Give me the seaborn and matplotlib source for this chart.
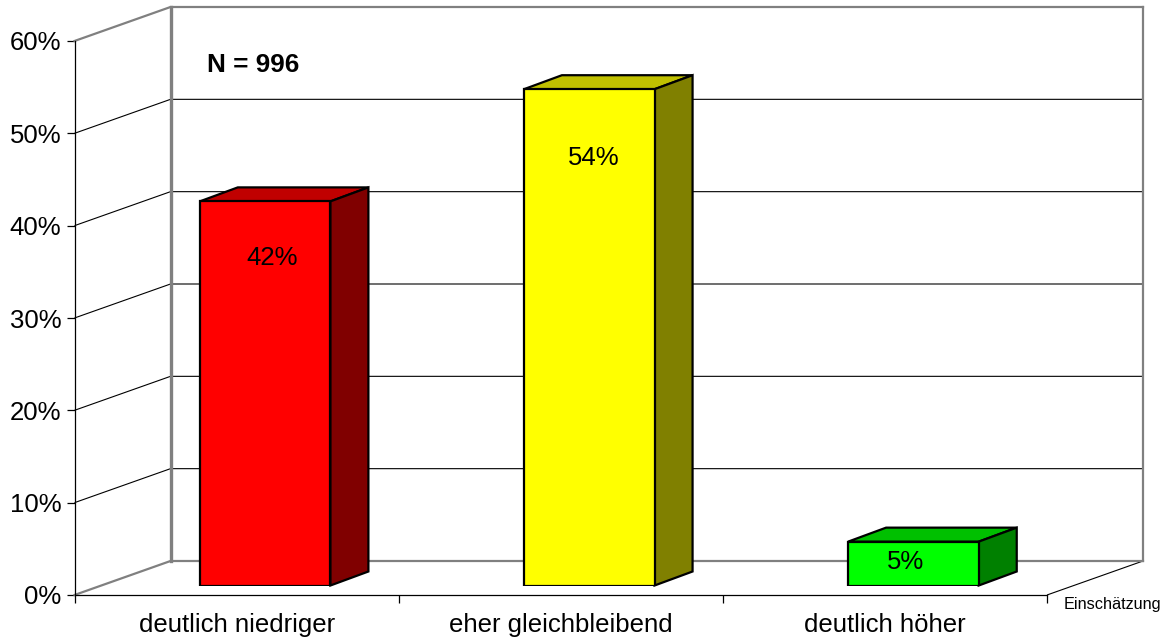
import matplotlib
matplotlib.use("Agg")
import matplotlib.pyplot as plt
from matplotlib.patches import Polygon
import pandas as pd
import seaborn as sns

categories = ["deutlich niedriger", "eher gleichbleibend", "deutlich höher"]
values = [41.6, 53.75, 4.75]
value_labels = ["42%", "54%", "5%"]
y_ticks = [0, 10, 20, 30, 40, 50, 60]
front_colors = ["#FF0000", "#FFFF00", "#00FF00"]
top_colors = ["#C00000", "#C0C000", "#00C000"]
side_colors = ["#800000", "#808000", "#008000"]
note = "N = 996"
depth_title = "Einschätzung"

sns.set_theme(style="white")
plt.rcParams["font.family"] = ["Liberation Sans", "DejaVu Sans"]

W, H = 1166, 638
fig = plt.figure(figsize=(W / 100, H / 100), dpi=100, facecolor="white")

# geometry in pixels
L, R, B, T = 74.5, 1047.0, 595.0, 41.0


def rect(l, r, b, t):
    return [l / W, 1 - b / H, (r - l) / W, (b - t) / H]


ax = fig.add_axes(rect(L, R, B, T), facecolor="none", zorder=1)
bar_ax = fig.add_axes(rect(L + 28.5, R + 28.5, B - 9.5, T - 9.5), facecolor="none", zorder=2)

px_x = 3.0 / (R - L)      # category units per pixel
px_y = 60.0 / (B - T)     # percent per pixel
wall_dx, wall_dy = 96 * px_x, 34 * px_y
bar_dx, bar_dy = 38 * px_x, 14 * px_y
x0, x1 = -0.5, 2.5

GREY = "#808080"
thin = dict(color="black", lw=0.8, clip_on=False, solid_capstyle="butt", zorder=1)
thick = dict(color=GREY, lw=2.1, clip_on=False, solid_capstyle="projecting", zorder=2)

ax.set_xlim(x0, x1)
ax.set_ylim(0, 60)
bar_ax.set_xlim(x0, x1)
bar_ax.set_ylim(0, 60)

# walls and gridlines
for t in y_ticks[1:-1]:
    ax.plot([x0, x0 + wall_dx, x1 + wall_dx], [t, t + wall_dy, t + wall_dy], **thin)
ax.plot([x0, x0 + wall_dx, x1 + wall_dx], [60, 60 + wall_dy, 60 + wall_dy], **{**thick, "lw": 1.6})
ax.plot([x0, x0 + wall_dx, x1 + wall_dx], [0, wall_dy, wall_dy], **{**thick, "lw": 1.6})
ax.plot([x0 + wall_dx, x0 + wall_dx], [wall_dy, 60 + wall_dy], **{**thick, "lw": 2.4})
ax.plot([x1 + wall_dx, x1 + wall_dx], [wall_dy, 60 + wall_dy], **{**thick, "lw": 1.6})
ax.plot([x1, x1 + wall_dx], [0, wall_dy], **thin)

# axes
for s in ("top", "right"):
    ax.spines[s].set_visible(False)
for s in ("left", "bottom"):
    ax.spines[s].set_color("black")
    ax.spines[s].set_linewidth(0.9)
    ax.spines[s].set_zorder(3)
ax.set_yticks(y_ticks)
ax.set_yticklabels([f"{t}%" for t in y_ticks], fontsize=18.5, color="black")
ax.set_xticks([-0.5, 0.5, 1.5, 2.5])
ax.set_xticklabels([])
ax.set_xticks([0, 1, 2], minor=True)
ax.set_xticklabels(categories, minor=True, fontsize=18.5, color="black")
ax.tick_params(axis="y", which="major", left=True, length=5.8, width=0.9, color="black", pad=3.7)
ax.tick_params(axis="x", which="major", bottom=True, length=5.8, width=0.9, color="black")
ax.tick_params(axis="x", which="minor", bottom=False, length=0, pad=13)

# bars
EDGE = 1.6
df = pd.DataFrame({"category": categories, "value": values})
sns.barplot(
    data=df, x="category", y="value", hue="category", palette=front_colors,
    order=categories, hue_order=categories, width=0.403, legend=False, dodge=False,
    saturation=1, edgecolor="black", linewidth=EDGE, ax=bar_ax, zorder=3,
)
bar_ax.set_xlim(x0, x1)
bar_ax.set_ylim(0, 60)
bar_ax.axis("off")

half = 0.403 / 2
label_offsets = [(7, -54), (4, -66), (-8, -18)]
for i, v in enumerate(values):
    l, r = i - half, i + half
    top = Polygon([(l, v), (r, v), (r + bar_dx, v + bar_dy), (l + bar_dx, v + bar_dy)],
                  closed=True, fc=top_colors[i], ec="black", lw=EDGE, zorder=2, clip_on=False)
    side = Polygon([(r, 0), (r + bar_dx, bar_dy), (r + bar_dx, v + bar_dy), (r, v)],
                   closed=True, fc=side_colors[i], ec="black", lw=EDGE, zorder=2, clip_on=False)
    bar_ax.add_patch(top)
    bar_ax.add_patch(side)
    bar_ax.annotate(value_labels[i], (i, v), xytext=(label_offsets[i][0] * 0.72, label_offsets[i][1] * 0.72 - 2),
                    textcoords="offset points", ha="center", va="center", fontsize=18.5,
                    color="black", zorder=5)

fig.text(207 / W, 1 - 65 / H, note, fontsize=18.8, fontweight="bold", ha="left", va="center", color="black", zorder=6)
fig.text(1064 / W, 1 - 604 / H, depth_title, fontsize=11.7, ha="left", va="center", color="black", zorder=6)

fig.savefig("out.png", dpi=100, facecolor="white")
